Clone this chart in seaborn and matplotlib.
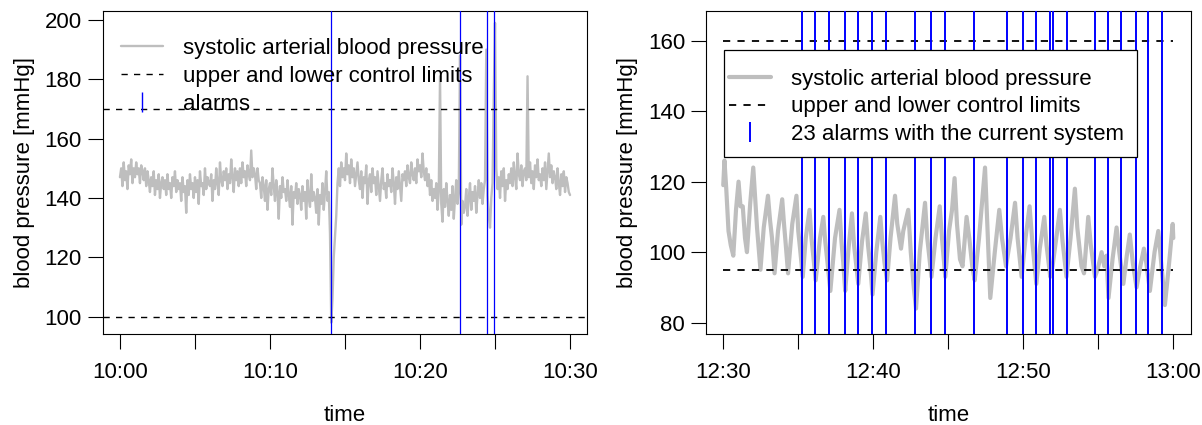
import numpy as np
import pandas as pd
import matplotlib
matplotlib.use("Agg")
import matplotlib.pyplot as plt
from matplotlib.lines import Line2D
from matplotlib.patches import Rectangle
import seaborn as sns

# ---------------- data ----------------
# left panel: systolic pressure 10:00-10:30, one value every 5 s (12 per minute)
left_bp = [
    147,150,144,152,146,149,143,151,148,153,145,150,
    147,152,148,150,145,151,149,146,150,144,149,146,
    142,147,144,149,141,146,143,148,140,145,147,143,
    146,141,148,143,145,140,147,144,149,142,146,143,
    145,139,147,142,144,135,146,141,148,143,145,140,
    147,142,146,138,149,144,145,141,150,143,147,145,
    144,148,139,146,143,150,145,141,152,146,144,149,
    146,150,143,148,145,153,147,142,150,146,149,144,
    150,145,152,147,149,144,151,148,146,156,147,150,
    148,143,150,146,145,140,147,144,139,146,136,143,
    145,141,150,144,139,146,142,133,144,140,147,142,
    143,139,146,141,137,144,131,142,140,145,138,143,
    141,136,144,139,142,133,146,140,137,148,139,142,
    140,135,143,131,141,138,145,136,142,149,139,142,
    128, 98,106,120,127,134,145,150,144,152,147,150,
    146,155,148,151,145,153,147,150,144,148,152,146,
    143,149,140,147,145,151,138,146,148,142,150,145,
    147,141,149,144,139,146,150,143,145,140,148,144,
    146,142,150,145,138,147,143,149,144,139,148,146,
    149,144,151,147,145,152,148,146,150,145,153,149,
    151,147,155,149,146,150,144,148,141,146,139,143,
    140,145,136,142,181,138,132,143,137,145,139,134,
    141,136,144,133,140,146,138,142,188,131,139,135,
    137,143,134,140,145,136,142,139,144,135,141,146,
    140,145,138,143,146,190,141,134,130,140,145,175,
    199,150,143,147,140,149,144,150,139,146,143,148,
    145,150,144,152,147,143,155,148,146,151,144,149,
    150,146,181,147,152,145,149,143,151,147,153,146,
    148,144,150,146,152,143,149,155,147,151,145,149,
    147,143,150,145,141,148,144,149,142,147,145,142,
    141,
]
left_limits = [170, 100]
left_alarms = [14.09, 22.67, 24.49, 24.95]          # minutes after 10:00
left_tick_labels = ["10:00", "10:10", "10:20", "10:30"]

# right panel: systolic pressure 12:30-13:00 (minutes after 12:30, mmHg)
right_t = [
    0.00,0.08,0.20,0.35,0.50,0.67,0.85,1.02,1.15,1.30,1.45,1.58,1.80,2.00,2.12,2.25,
    2.48,2.70,2.98,3.12,3.25,3.42,3.65,3.93,4.05,4.15,4.32,4.60,4.88,5.00,5.12,5.30,
    5.50,5.75,5.88,6.00,6.16,6.45,6.67,6.80,6.95,7.14,7.45,7.75,7.88,8.00,8.13,8.35,
    8.58,8.72,8.85,9.00,9.25,9.50,9.65,9.80,9.95,10.20,10.47,10.60,10.75,10.92,11.15,
    11.45,11.60,11.85,12.00,12.33,12.50,12.70,12.85,13.10,13.45,13.60,13.75,13.88,
    14.15,14.43,14.58,14.80,15.05,15.25,15.42,15.58,15.78,15.95,16.22,16.40,16.60,
    16.76,17.05,17.45,17.60,17.80,18.10,18.40,18.58,18.85,19.15,19.45,19.62,19.89,
    20.15,20.42,20.60,20.87,21.10,21.40,21.55,21.80,21.95,22.20,22.44,22.62,22.88,
    23.15,23.44,23.60,23.88,24.05,24.33,24.50,24.78,24.95,25.22,25.40,25.55,25.68,
    25.95,26.22,26.40,26.67,26.90,27.10,27.30,27.55,27.80,28.04,28.20,28.44,28.75,
    29.00,29.15,29.30,29.44,29.70,29.85,29.96,30.00,
]
right_bp = [
    119,126,118,106,102,99,112,120,113,113,104,100,114,124,116,107,
    95,107,116,109,104,94,106,115,108,103,94,108,116,106,101,93,
    104,112,104,99,92,104,110,103,97,89,104,112,103,97,89,101,
    111,102,97,91,103,111,102,96,88,100,110,103,97,92,104,
    116,108,101,106,112,100,90,84,100,114,104,98,93,
    104,113,104,93,106,112,121,108,98,96,110,104,96,
    92,104,124,108,87,100,112,104,96,104,114,104,93,
    104,113,103,91,101,110,102,93,96,104,112,103,93,
    104,118,107,96,94,110,102,93,95,100,96,99,87,
    98,107,100,91,99,105,97,90,96,101,97,89,100,
    106,99,92,85,96,103,108,104,
]
right_limits = [160, 95]
right_alarms = [5.28, 6.10, 7.05, 8.10, 8.95, 9.92, 10.87, 12.77, 13.87, 14.77,
                16.72, 18.92, 19.95, 20.87, 21.79, 21.97, 22.92, 24.79, 25.62,
                26.54, 27.54, 28.33, 29.26]
right_tick_labels = ["12:30", "12:40", "12:50", "13:00"]

major_ticks = [0, 10, 20, 30]
minor_ticks = [5, 15, 25]

# ---------------- style ----------------
sns.set_theme(style="white")
plt.rcParams["font.family"] = ["Liberation Sans", "DejaVu Sans"]
plt.rcParams["text.color"] = "black"
plt.rcParams["axes.labelcolor"] = "black"
plt.rcParams["xtick.color"] = "black"
plt.rcParams["ytick.color"] = "black"
FS = 16
GRAY = "#BEBEBE"
BLUE = "#0000FF"

W, H = 1202, 425
fig = plt.figure(figsize=(W / 100, H / 100), dpi=100)

def px_axes(x0, y0, x1, y1):
    return [x0 / W, 1 - y1 / H, (x1 - x0) / W, (y1 - y0) / H]

axL = fig.add_axes(px_axes(102.7, 11, 587.3, 334.3))
axR = fig.add_axes(px_axes(706, 11, 1190.7, 334.3))

def style_axes(ax, labels):
    for s in ax.spines.values():
        s.set_visible(True)
        s.set_color("black")
        s.set_linewidth(0.8)
    ax.set_xticks(major_ticks)
    ax.set_xticklabels(labels)
    ax.set_xticks(minor_ticks, minor=True)
    ax.tick_params(axis="both", which="both", direction="out", length=10.5,
                   width=0.8, color="black", labelsize=FS, labelcolor="black",
                   bottom=True, left=True)
    ax.tick_params(axis="x", which="both", pad=9.2)
    ax.tick_params(axis="y", which="both", pad=4.5)
    ax.set_xlabel("time", fontsize=FS, color="black")
    ax.set_ylabel("blood pressure [mmHg]", fontsize=FS, color="black")
    ax.xaxis.set_label_coords(0.5, -0.22)
    ax.yaxis.set_label_coords(-0.14, 0.5)
    ax.grid(False)

# ---------------- left panel ----------------
left_t = np.arange(len(left_bp)) * 5 / 60.0
dfL = pd.DataFrame({"t": left_t, "bp": left_bp})
sns.lineplot(data=dfL, x="t", y="bp", ax=axL, color=GRAY, linewidth=1.7,
             estimator=None, sort=False, legend=False, zorder=2,
             solid_joinstyle="round")
for y in left_limits:
    axL.axhline(y, color="black", linewidth=1.0, dashes=(4.5, 4.5), zorder=3)
for a in left_alarms:
    axL.axvline(a, color=BLUE, linewidth=0.9, zorder=3)
axL.set_xlim(-1.15, 31.15)
axL.set_ylim(94.07, 203.0)
axL.set_yticks([100, 120, 140, 160, 180, 200])
style_axes(axL, left_tick_labels)

handlesL = [
    Line2D([], [], color=GRAY, linewidth=1.7),
    Line2D([], [], color="black", linewidth=1.0, dashes=(4.5, 4.5)),
    Line2D([], [], color=BLUE, marker="|", linestyle="None", markersize=15,
           markeredgewidth=1.0),
]
labelsL = ["systolic arterial blood pressure", "upper and lower control limits", "alarms"]
axL.legend(handlesL, labelsL, loc="upper left", bbox_to_anchor=(0.0378, 0.917),
           frameon=False, fontsize=FS, borderpad=0, borderaxespad=0,
           handlelength=1.9, handletextpad=0.89, labelspacing=0.31, numpoints=1,
           labelcolor="black")

# ---------------- right panel ----------------
dfR = pd.DataFrame({"t": right_t, "bp": right_bp})
sns.lineplot(data=dfR, x="t", y="bp", ax=axR, color=GRAY, linewidth=3.0,
             estimator=None, sort=False, legend=False, zorder=2,
             solid_joinstyle="round")
for y in right_limits:
    axR.hlines(y, 0, 30, color="black", linewidth=1.3, linestyles=(0, (4, 4)), zorder=3)
for a in right_alarms:
    axR.axvline(a, color=BLUE, linewidth=1.4, zorder=3)
axR.set_xlim(-1.15, 31.16)
axR.set_ylim(76.7, 168.4)
axR.set_yticks([80, 100, 120, 140, 160])
style_axes(axR, right_tick_labels)

# legend frame (white box with black border)
x0 = (723.8 - 706) / 484.7
x1 = (1137.3 - 706) / 484.7
yt = 1 - (50 - 11) / 323.3
yb = 1 - (157.3 - 11) / 323.3
axR.add_patch(Rectangle((x0, yb), x1 - x0, yt - yb, transform=axR.transAxes,
                        facecolor="white", edgecolor="black", linewidth=0.9,
                        zorder=4, clip_on=False))
handlesR = [
    Line2D([], [], color=GRAY, linewidth=3.0),
    Line2D([], [], color="black", linewidth=1.3, dashes=(4, 4)),
    Line2D([], [], color=BLUE, marker="|", linestyle="None", markersize=14,
           markeredgewidth=1.4),
]
labelsR = ["systolic arterial blood pressure", "upper and lower control limits",
           "23 alarms with the current system"]
legR = axR.legend(handlesR, labelsR, loc="upper left", bbox_to_anchor=(0.047, 0.82),
                  frameon=False, fontsize=FS, borderpad=0, borderaxespad=0,
                  handlelength=1.9, handletextpad=0.89, labelspacing=0.28, numpoints=1,
                  labelcolor="black")
legR.set_zorder(5)

fig.savefig("out.png", dpi=100)
